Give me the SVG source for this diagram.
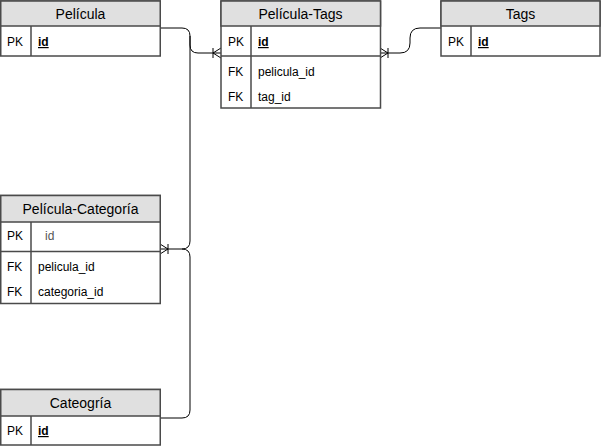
<svg xmlns="http://www.w3.org/2000/svg" width="601" height="447" viewBox="0 0 601 447">
<style>
.box{fill:#fff;stroke:#4a4a4a;stroke-width:1.5}
.hdr{fill:#e0e0e0;stroke:#4a4a4a;stroke-width:1.5}
.ln{stroke:#4a4a4a;stroke-width:1.5;fill:none}
.t{font-family:"Liberation Sans",Arial,sans-serif;fill:#000}
.h{font-size:14px;text-anchor:middle}
.k{font-size:12px}
.f{font-size:12px}
.pk{font-size:12px;font-weight:bold;text-decoration:underline}
.edge{stroke:#000;stroke-width:1;fill:none}
</style>
<rect width="601" height="447" fill="#fff"/>
<g id="connectors">
  <path class="edge" d="M160,28 H182 Q190,28 190,36 V45 Q190,53 198,53 H221"/>
  <path class="edge" d="M213,48 V58 M213,53 L221,48 M213,53 L221,58"/>
  <path class="edge" d="M190,36 V241 Q190,249 182,249 H160"/>
  <path class="edge" d="M168,244 V254 M168,249 L160,244 M168,249 L160,254"/>
  <path class="edge" d="M160,418 H182 Q190,418 190,410 V257 Q190,249 182,249"/>
  <path class="edge" d="M380,53 H400 Q410,53 410,43 V38 Q410,28 420,28 H441"/>
  <path class="edge" d="M388,48 V58 M388,53 L380,48 M388,53 L380,58"/>
</g>
<g id="pelicula">
  <rect class="box" x="0.75" y="1" width="159.5" height="55"/>
  <rect class="hdr" x="0.75" y="1" width="159.5" height="25"/>
  <line class="ln" x1="31" y1="26" x2="31" y2="56"/>
  <text class="t h" x="80.5" y="19">Película</text>
  <text class="t k" x="7" y="46">PK</text>
  <text class="t pk" x="38" y="46">id</text>
</g>
<g id="pelicula-tags">
  <rect class="box" x="221" y="1" width="159.5" height="107"/>
  <rect class="hdr" x="221" y="1" width="159.5" height="25"/>
  <line class="ln" x1="221" y1="56" x2="380.5" y2="56"/>
  <line class="ln" x1="251" y1="26" x2="251" y2="108"/>
  <text class="t h" x="300.5" y="19">Película-Tags</text>
  <text class="t k" x="228" y="46">PK</text>
  <text class="t pk" x="258" y="46">id</text>
  <text class="t k" x="228" y="76">FK</text>
  <text class="t f" x="258" y="76">pelicula_id</text>
  <text class="t k" x="228" y="101">FK</text>
  <text class="t f" x="258" y="101">tag_id</text>
</g>
<g id="tags">
  <rect class="box" x="441" y="1" width="159" height="55"/>
  <rect class="hdr" x="441" y="1" width="159" height="25"/>
  <line class="ln" x1="471" y1="26" x2="471" y2="56"/>
  <text class="t h" x="520.5" y="19">Tags</text>
  <text class="t k" x="448" y="46">PK</text>
  <text class="t pk" x="478" y="46">id</text>
</g>
<g id="pelicula-categoria">
  <rect class="box" x="0.75" y="195.5" width="159.5" height="108"/>
  <rect class="hdr" x="0.75" y="195.5" width="159.5" height="26.5"/>
  <line class="ln" x1="0.75" y1="251.5" x2="160.25" y2="251.5"/>
  <line class="ln" x1="31" y1="222" x2="31" y2="303.5"/>
  <text class="t h" x="80.5" y="214">Película-Categoría</text>
  <text class="t k" x="7" y="240">PK</text>
  <text class="t f" x="45" y="240" fill="#555" style="fill:#555">id</text>
  <text class="t k" x="7" y="271">FK</text>
  <text class="t f" x="38" y="271">pelicula_id</text>
  <text class="t k" x="7" y="296">FK</text>
  <text class="t f" x="38" y="296">categoria_id</text>
</g>
<g id="categoria">
  <rect class="box" x="0.75" y="389.5" width="159.5" height="55.5"/>
  <rect class="hdr" x="0.75" y="389.5" width="159.5" height="26.5"/>
  <line class="ln" x1="31" y1="416" x2="31" y2="445"/>
  <text class="t h" x="80.5" y="408">Cateogría</text>
  <text class="t k" x="7" y="435">PK</text>
  <text class="t pk" x="38" y="435">id</text>
</g>
</svg>
